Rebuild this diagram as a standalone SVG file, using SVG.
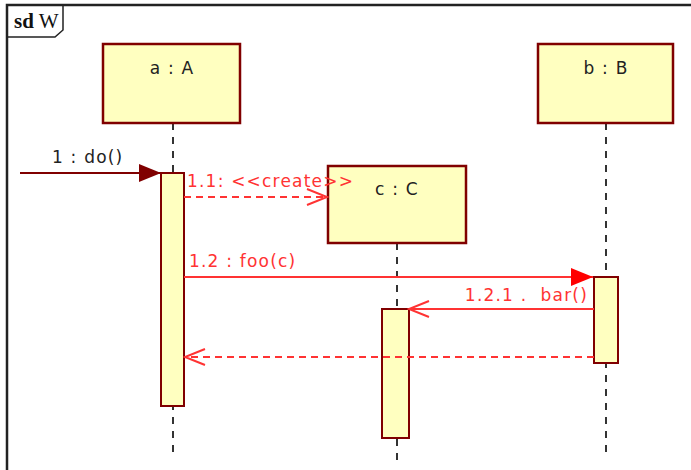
<svg xmlns="http://www.w3.org/2000/svg" width="691" height="470" viewBox="0 0 691 470">
<defs>
<style>
.box{fill:#ffffc0;stroke:#800000;stroke-width:2.5}
.act{fill:#ffffc0;stroke:#800000;stroke-width:2}
.life{stroke:#333;stroke-width:2;stroke-dasharray:7,7;fill:none}
.lbl{font-family:"DejaVu Sans",sans-serif;font-size:17px;letter-spacing:1.2px;fill:#222;white-space:pre}
.rlbl{font-family:"DejaVu Sans",sans-serif;font-size:17px;letter-spacing:1.2px;fill:#ff3333;white-space:pre}
.msg{stroke:#ff3333;stroke-width:2;fill:none}
.dash{stroke-dasharray:7,5}
</style>
<marker id="fillR" markerWidth="24" markerHeight="18" refX="22" refY="9" orient="auto" markerUnits="userSpaceOnUse"><path d="M0,0 L22,9 L0,18 Z" fill="#ff0000"/></marker>
<marker id="fillD" markerWidth="24" markerHeight="18" refX="22" refY="9" orient="auto" markerUnits="userSpaceOnUse"><path d="M0,0 L22,9 L0,18 Z" fill="#800000"/></marker>
<marker id="open" markerWidth="24" markerHeight="20" refX="22" refY="10" orient="auto" markerUnits="userSpaceOnUse"><path d="M2,2 L22,10 L2,18" fill="none" stroke="#ff3333" stroke-width="2"/></marker>
</defs>
<rect width="691" height="470" fill="#fff"/>
<g id="frame">
<path d="M7,470 L7,5 L691,5" fill="none" stroke="#222" stroke-width="2.5"/>
<path d="M7,37 L55,37 L63,30 L63,5" fill="none" stroke="#222" stroke-width="1.5"/>
<text x="14" y="28" font-family="Liberation Serif,serif" font-size="21" fill="#111"><tspan font-weight="bold">sd</tspan> W</text>
</g>
<g id="lifelines">
<line class="life" x1="173" y1="123" x2="173" y2="458"/>
<line class="life" x1="397" y1="243" x2="397" y2="462"/>
<line class="life" x1="606" y1="123" x2="606" y2="456"/>
</g>
<g id="a">
<rect class="box" x="103" y="44" width="137" height="79"/>
<text class="lbl" x="172" y="74" text-anchor="middle">a : A</text>
<rect class="act" x="161" y="173" width="23" height="233"/>
</g>
<g id="b">
<rect class="box" x="538" y="44" width="135" height="79"/>
<text class="lbl" x="606" y="74" text-anchor="middle">b : B</text>
<rect class="act" x="594" y="277" width="24" height="86"/>
</g>
<g id="c">
<rect class="box" x="328" y="166" width="138" height="77"/>
<text class="lbl" x="397" y="195" text-anchor="middle">c : C</text>
<rect class="act" x="382" y="309" width="27" height="129"/>
</g>
<g id="connectors">
<line x1="20" y1="173" x2="161" y2="173" stroke="#800000" stroke-width="2" marker-end="url(#fillD)"/>
<text class="lbl" x="52" y="163">1 : do()</text>
<line class="msg dash" x1="184" y1="197" x2="327" y2="197" marker-end="url(#open)"/>
<text class="rlbl" x="187" y="187">1.1: &lt;&lt;create&gt;&gt;</text>
<line class="msg" x1="184" y1="277" x2="593" y2="277" marker-end="url(#fillR)"/>
<text class="rlbl" x="189" y="267">1.2 : foo(c)</text>
<line class="msg" x1="594" y1="309" x2="409" y2="309" marker-end="url(#open)"/>
<text class="rlbl" x="588" y="301" text-anchor="end">1.2.1 .  bar()</text>
<line class="msg dash" x1="594" y1="357" x2="185" y2="357" marker-end="url(#open)"/>
</g>
</svg>
